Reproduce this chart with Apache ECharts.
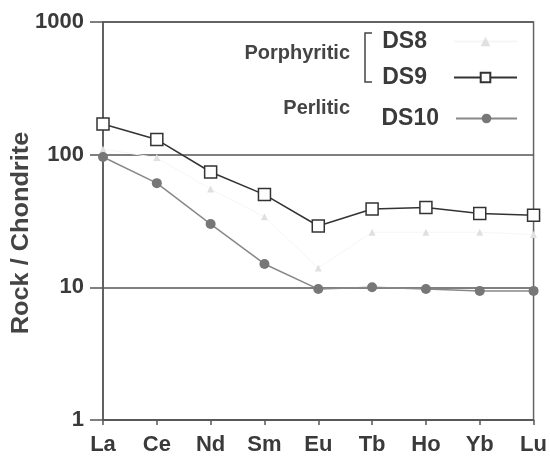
<!DOCTYPE html>
<html>
<head>
<meta charset="utf-8">
<script src="https://cdn.jsdelivr.net/npm/echarts@6/dist/echarts.min.js"></script>
<style>
html,body{margin:0;padding:0;background:#fff;}
#chart{width:550px;height:459px;}
</style>
</head>
<body>
<div id="chart"></div>
<script>
const categories = ['La','Ce','Nd','Sm','Eu','Tb','Ho','Yb','Lu'];
const ds8 = [110, 95, 55, 34, 14, 26, 26, 26, 25];
const ds9 = [170, 130, 74, 50, 29, 39, 40, 36, 35];
const ds10 = [96, 61, 30, 15, 9.7, 10, 9.7, 9.4, 9.4];
const yTicks = [1, 10, 100, 1000];

const FONT = 'Liberation Sans, Arial, sans-serif';
const TXT = '#3a3a3a';
const AX = '#555';

const legendText = (pad) => ({fontFamily: FONT, fontWeight: 'bold', fontSize: 23, color: TXT, padding: [0, pad, 0, 0]});

const chart = echarts.init(document.getElementById('chart'));
chart.setOption({
  animation: false,
  backgroundColor: '#fff',
  grid: {left: 103, right: 12, top: 22, bottom: 39, show: true, borderColor: '#666', borderWidth: 1.5, containLabel: false},
  xAxis: {
    type: 'category', data: categories, boundaryGap: false,
    axisLine: {lineStyle: {color: AX, width: 1.5}},
    axisTick: {show: true, inside: false, length: 5, alignWithLabel: true, lineStyle: {color: AX, width: 1.5}},
    axisLabel: {margin: 14, fontFamily: FONT, fontWeight: 'bold', fontSize: 22, color: TXT},
    splitLine: {show: false}
  },
  yAxis: {
    type: 'log', logBase: 10, min: yTicks[0], max: yTicks[yTicks.length - 1],
    axisLine: {show: true, lineStyle: {color: AX, width: 1.5}},
    axisTick: {show: true, inside: false, length: 13, lineStyle: {color: AX, width: 1.5}},
    minorTick: {show: false},
    axisLabel: {margin: 19, fontFamily: FONT, fontWeight: 'bold', fontSize: 22, color: TXT,
                formatter: v => String(Math.round(v))},
    splitLine: {show: true, lineStyle: {color: AX, width: 1.5}}
  },
  legend: [
    {data: ['DS8'], right: 32, top: 30, orient: 'vertical', align: 'right', padding: 0, itemWidth: 63, itemHeight: 12, itemGap: 0,
     textStyle: legendText(22)},
    {data: ['DS9'], right: 32, top: 66, orient: 'vertical', align: 'right', padding: 0, itemWidth: 63, itemHeight: 12, itemGap: 0,
     textStyle: legendText(22)},
    {data: ['DS10'], right: 32, top: 107, orient: 'vertical', align: 'right', padding: 0, itemWidth: 61, itemHeight: 12, itemGap: 0,
     textStyle: legendText(12)}
  ],
  graphic: [
    {type: 'text', x: 22, y: 233, rotation: Math.PI / 2, scaleX: 1.1,
     style: {text: 'Rock / Chondrite', fill: '#444', font: 'bold 23px ' + FONT, textAlign: 'center', textVerticalAlign: 'middle'}},
    {type: 'text', x: 350, y: 53,
     style: {text: 'Porphyritic', fill: '#444', font: 'bold 20px ' + FONT, textAlign: 'right', textVerticalAlign: 'middle'}},
    {type: 'text', x: 350, y: 108,
     style: {text: 'Perlitic', fill: '#444', font: 'bold 20px ' + FONT, textAlign: 'right', textVerticalAlign: 'middle'}},
    {type: 'polyline', shape: {points: [[372, 33], [365, 33], [365, 82], [372, 82]]},
     style: {stroke: '#444', lineWidth: 1.5, fill: null}}
  ],
  series: [
    {name: 'DS8', type: 'line', data: ds8, symbol: 'triangle', symbolSize: 7,
     lineStyle: {color: '#f6f6f6', width: 1}, itemStyle: {color: '#e0e0e0'}, z: 1},
    {name: 'DS10', type: 'line', data: ds10, symbol: 'circle', symbolSize: 10,
     lineStyle: {color: '#888', width: 1.5}, itemStyle: {color: '#777'}, z: 2},
    {name: 'DS9', type: 'line', data: ds9, symbol: 'rect', symbolSize: 12,
     lineStyle: {color: '#333', width: 1.5}, itemStyle: {color: '#fff', borderColor: '#333', borderWidth: 1.5}, z: 3}
  ]
});
</script>
</body>
</html>
